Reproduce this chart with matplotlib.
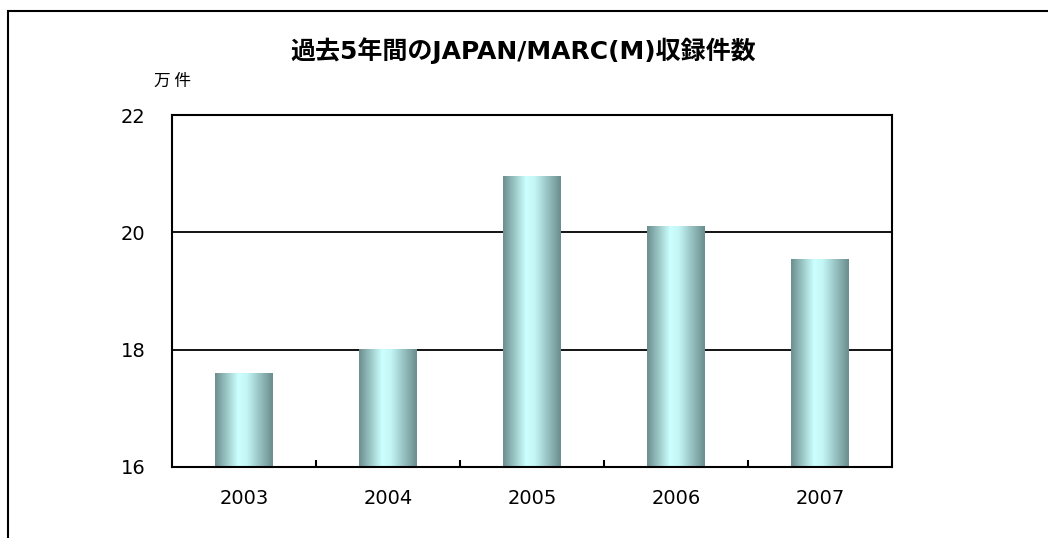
import numpy as np
import matplotlib
matplotlib.use("Agg")
import matplotlib.pyplot as plt
from matplotlib.colors import LinearSegmentedColormap
from matplotlib.patches import Rectangle

years = ["2003", "2004", "2005", "2006", "2007"]
counts = [17.6, 18.0, 20.95, 20.1, 19.53]  # 万件
y_ticks = [16, 18, 20, 22]

title = "過去5年間のJAPAN/MARC(M)収録件数"
unit = "万 件"

plt.rcParams["font.family"] = ["Noto Sans CJK JP", "DejaVu Sans"]

fig = plt.figure(figsize=(10.48, 5.38), dpi=100)
ax = fig.add_axes([172 / 1048, 1 - 467 / 538, 720 / 1048, 352 / 538])

# outer chart frame (runs off the right and bottom of the picture)
fig.patches.append(
    Rectangle((8 / 1048, -0.1), 1.2, 1 - 11 / 538 + 0.1, transform=fig.transFigure,
              fill=False, ec="black", lw=1.5, clip_on=False)
)

# gradient used for the cylinder-like bars
shade = LinearSegmentedColormap.from_list(
    "shade", [(0, "#6b8e8e"), (0.4, "#ccffff"), (0.55, "#c4f6f6"), (1, "#6a8c8c")]
)
grad = np.linspace(0, 1, 256).reshape(1, -1)

x = np.arange(len(years))
bars = ax.bar(x, np.array(counts) - y_ticks[0], width=0.4, bottom=y_ticks[0],
              color="none", zorder=3)
for b in bars:
    x0, w = b.get_x(), b.get_width()
    ax.imshow(grad, cmap=shade, aspect="auto", interpolation="bicubic",
              extent=[x0, x0 + w, b.get_y(), b.get_y() + b.get_height()], zorder=3)

ax.set_xlim(-0.5, len(years) - 0.5)
ax.set_ylim(y_ticks[0], y_ticks[-1])

ax.set_yticks(y_ticks)
ax.set_yticklabels([str(v) for v in y_ticks], family=["DejaVu Sans"], fontsize=14)
ax.tick_params(axis="y", length=0, pad=19)

ax.set_xticks(x)
ax.set_xticklabels(years, family=["DejaVu Sans"], fontsize=14)
ax.set_xticks(np.arange(0.5, len(years) - 1, 1), minor=True)
ax.tick_params(axis="x", which="major", length=0, pad=16)
ax.tick_params(axis="x", which="minor", direction="in", length=5, width=1.5)

ax.grid(axis="y", color="black", lw=1.3, zorder=1)
ax.set_axisbelow(True)
for s in ax.spines.values():
    s.set_linewidth(1.5)
    s.set_zorder(4)

fig.text(523 / 1048, 1 - 51 / 538, title, ha="center", va="center",
         fontsize=18, fontweight="bold", family=["DejaVu Sans", "Noto Sans CJK JP"])
fig.text(173 / 1048, 1 - 81 / 538, unit, ha="center", va="center", fontsize=12)

fig.savefig("out.png", dpi=100)
